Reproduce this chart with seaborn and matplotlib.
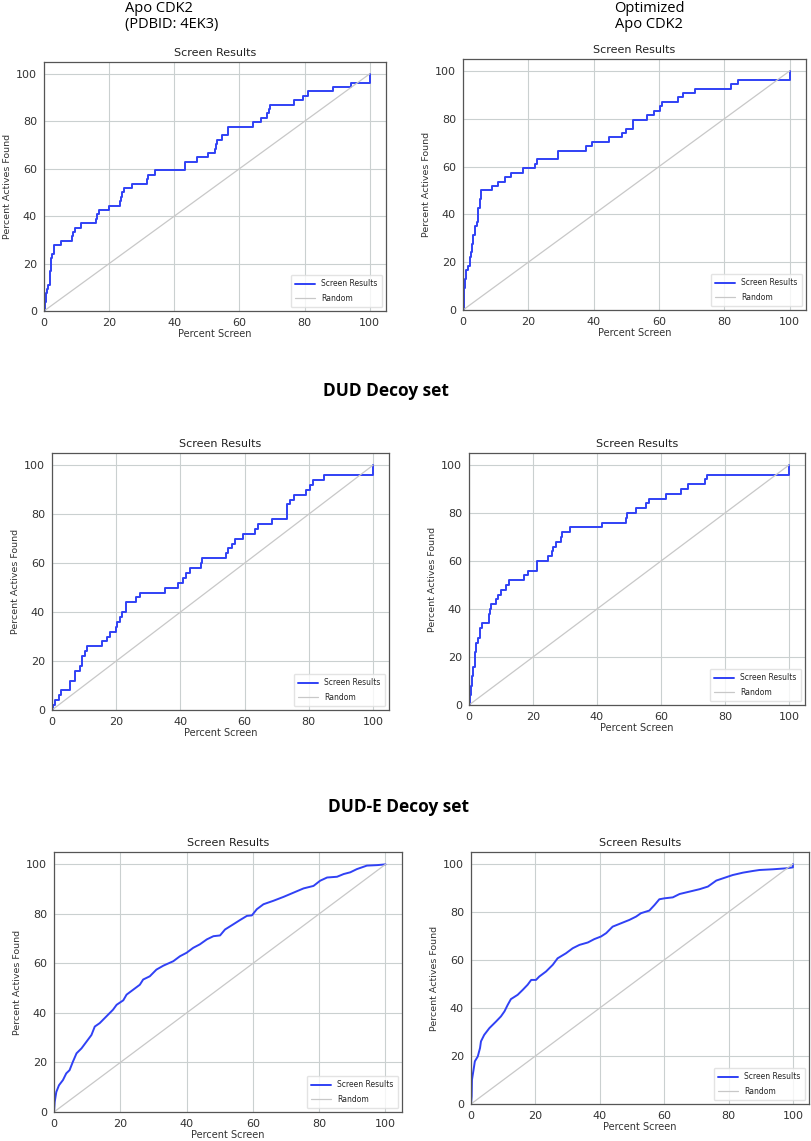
import numpy as np
import pandas as pd
import matplotlib
matplotlib.use('Agg')
import matplotlib.pyplot as plt
import seaborn as sns

# step curves: (percent screen, percent actives found)
apo_x = [0, 0.2, 0.5, 0.9, 1.3, 1.7, 2.0, 2.3, 2.6, 3.0, 5.3, 8.7, 9.0, 9.5, 11.3, 15.9, 16.3, 16.8,
         20.0, 23.3, 23.7, 24.1, 24.5, 26.9, 31.7, 32.0, 34.2, 43.4, 47.0, 50.3, 52.6, 52.8, 53.1,
         54.7, 56.6, 64.1, 66.6, 68.5, 69.0, 69.5, 76.8, 79.6, 81.0, 88.6, 94.2, 100]
apo_y = [0, 3.7, 7.4, 9.3, 11.1, 16.7, 20.4, 22.2, 24.1, 27.8, 29.6, 31.5, 33.3, 35.2, 37.0, 38.9, 40.7, 42.6,
         44.4, 46.3, 48.1, 50.0, 51.9, 53.7, 55.6, 57.4, 59.3, 63.0, 64.8, 66.7, 68.5, 70.4, 72.2,
         74.1, 77.8, 79.6, 81.5, 83.3, 85.2, 87.0, 88.9, 90.7, 92.6, 94.4, 96.3, 100]

opt_x = [0, 0.2, 0.4, 0.7, 1.0, 1.4, 2.0, 2.4, 2.8, 3.2, 3.7, 4.2, 4.6, 5.2, 5.5, 9.0, 10.7, 12.8, 14.6,
         18.4, 22.1, 22.6, 29.1, 37.8, 39.6, 44.7, 48.8, 50.0, 52.0, 56.4, 58.5, 60.2, 61.0, 65.8,
         67.3, 70.9, 82.1, 84.2, 100]
opt_y = [0, 5.6, 9.3, 13.0, 16.7, 18.5, 22.2, 24.1, 27.8, 31.5, 35.2, 37.0, 42.6, 46.3, 50.0, 51.9, 53.7, 55.6, 57.4,
         59.3, 61.1, 63.0, 66.7, 68.5, 70.4, 72.2, 74.1, 75.9, 79.6, 81.5, 83.3, 85.2, 87.0, 88.9,
         90.7, 92.6, 94.4, 96.3, 100]

dud_apo_x = [0, 0.3, 0.8, 2.2, 2.9, 5.5, 7.1, 8.6, 9.4, 10.2, 11.0, 15.7, 17.1, 18.0, 19.8, 20.4, 21.3,
             21.9, 23.2, 26.3, 27.3, 35.1, 39.3, 40.8, 41.8, 43.1, 46.3, 46.7, 54.3, 54.9, 56.1, 56.9,
             59.5, 63.4, 64.2, 68.6, 73.2, 74.0, 75.4, 79.0, 80.5, 81.3, 84.6, 100]
dud_apo_y = [0, 2, 4, 6, 8, 12, 16, 18, 22, 24, 26, 28, 30, 32, 34, 36, 38,
             40, 44, 46, 48, 50, 52, 54, 56, 58, 60, 62, 64, 66, 68, 70,
             72, 74, 76, 78, 84, 86, 88, 90, 92, 94, 96, 100]

dud_opt_x = [0, 0.2, 0.5, 1.0, 1.4, 1.9, 2.3, 2.9, 3.3, 4.2, 6.3, 6.7, 7.0, 8.3, 9.1, 9.9, 11.5, 12.5,
             17.2, 18.5, 21.1, 24.8, 25.8, 26.2, 27.1, 28.8, 29.1, 31.7, 41.5, 49.0, 49.5, 52.3, 55.4,
             56.3, 61.5, 66.1, 68.3, 73.6, 74.3, 100]
dud_opt_y = [0, 4, 8, 12, 16, 22, 26, 28, 32, 34, 38, 40, 42, 44, 46, 48, 50, 52,
             54, 56, 60, 62, 64, 66, 68, 70, 72, 74, 76, 78, 80, 82, 84,
             86, 88, 90, 92, 94, 96, 100]

dude_apo_x = [0, 0.2, 0.7, 1.5, 2.7, 3.7, 4.7, 5.7, 6.8, 8.3, 9.8, 11.3, 12.3, 13.8, 15.8, 17.8, 18.9,
              20.9, 21.9, 23.9, 25.9, 26.9, 28.9, 30.9, 33.0, 36.0, 38.0, 40.0, 42.0, 44.0, 46.1, 48.1,
              50.1, 51.6, 54.1, 56.1, 58.2, 59.7, 61.2, 63.2, 66.2, 69.3, 72.3, 75.3, 78.3, 80.3, 82.4,
              85.4, 87.4, 89.4, 91.4, 94.4, 97.5, 100]
dude_apo_y = [0, 4.0, 8.1, 10.8, 12.9, 15.6, 16.9, 20.3, 23.7, 25.7, 28.4, 31.1, 34.5, 35.9, 38.6, 41.3, 43.3,
              45.1, 47.4, 49.4, 51.4, 53.5, 54.8, 57.5, 59.1, 60.9, 62.9, 64.3, 66.3, 67.7, 69.7, 71.0,
              71.3, 73.7, 75.8, 77.5, 79.2, 79.4, 81.9, 83.9, 85.3, 86.9, 88.6, 90.3, 91.3, 93.4, 94.7,
              95.0, 96.1, 96.8, 98.1, 99.5, 99.7, 100]

dude_opt_x = [0, 0.2, 0.3, 0.8, 1.2, 2.1, 2.8, 3.1, 4.1, 5.7, 7.8, 9.3, 10.4, 11.4, 12.4, 14.5, 16.1,
              17.6, 18.7, 20.2, 21.2, 23.3, 25.4, 26.9, 29.5, 31.6, 33.7, 36.3, 38.3, 40.4, 42.0, 44.0,
              46.6, 49.2, 51.3, 52.8, 55.4, 57.0, 58.5, 60.1, 62.7, 64.8, 67.9, 71.0, 73.6, 76.2, 79.3,
              81.3, 84.5, 87.6, 89.6, 93.8, 97.9, 100, 100]
dude_opt_y = [0, 3.2, 10.1, 14.3, 17.8, 19.8, 23.3, 26.1, 28.8, 31.6, 34.4, 36.5, 38.6, 41.3, 43.7, 45.5, 47.6,
              49.7, 51.7, 51.7, 53.1, 55.2, 58.0, 60.7, 62.8, 64.9, 66.3, 67.3, 68.7, 69.8, 71.2, 73.9,
              75.3, 76.7, 78.1, 79.5, 80.6, 82.9, 85.3, 85.7, 86.1, 87.5, 88.5, 89.5, 90.6, 93.1, 94.5,
              95.4, 96.4, 97.1, 97.5, 97.8, 98.2, 98.6, 100]

random_x = [0, 100]
random_y = [0, 100]

W, H = 812, 1141
# axes boxes in pixels: left, top, right, bottom
boxes = [(44, 62, 386, 311), (463, 59, 806, 310),
         (52, 453, 389, 710), (469, 453, 805, 705),
         (54, 852, 402, 1112), (471, 852, 809, 1104)]
curves = [(apo_x, apo_y, 'steps-post'), (opt_x, opt_y, 'steps-post'),
          (dud_apo_x, dud_apo_y, 'steps-post'), (dud_opt_x, dud_opt_y, 'steps-post'),
          (dude_apo_x, dude_apo_y, 'default'), (dude_opt_x, dude_opt_y, 'default')]

sns.set_style('whitegrid', {'grid.color': '#cad0d0', 'axes.edgecolor': '#555555'})
plt.rcParams['font.family'] = ['DejaVu Sans']

fig = plt.figure(figsize=(W / 100, H / 100), dpi=100)

for (l, t, r, b), (xs, ys, ds) in zip(boxes, curves):
    ax = fig.add_axes([l / W, 1 - b / H, (r - l) / W, (b - t) / H])
    df = pd.DataFrame({'x': xs, 'y': ys})
    sns.lineplot(data=df, x='x', y='y', ax=ax, color='#3041f5', lw=1.4,
                 drawstyle=ds, label='Screen Results', sort=False, estimator=None)
    sns.lineplot(x=random_x, y=random_y, ax=ax, color='#c8c8c8', lw=0.9, label='Random')
    ax.set_xlim(0, 105)
    ax.set_ylim(0, 105)
    ax.set_xticks([0, 20, 40, 60, 80, 100])
    ax.set_yticks([0, 20, 40, 60, 80, 100])
    ax.tick_params(labelsize=8, pad=1.5, colors='#333333')
    ax.set_title('Screen Results', fontsize=8, pad=4, color='#222222')
    ax.set_xlabel('Percent Screen', fontsize=7, labelpad=1, color='#333333')
    ax.set_ylabel('Percent Actives Found', fontsize=6.8, labelpad=3, color='#333333')
    for s in ax.spines.values():
        s.set_linewidth(0.9)
    ax.legend(loc='lower right', fontsize=5.5, frameon=True, handlelength=2.6,
              borderpad=0.6, labelspacing=0.7, fancybox=True, edgecolor='#dddddd')

hdr = ['Open Sans', 'DejaVu Sans']
fig.text(125 / W, 1 - 1 / H, 'Apo CDK2\n(PDBID: 4EK3)', fontsize=10.5, family=hdr,
         ha='left', va='top', linespacing=1.05, color='black')
fig.text(649 / W, 1 - 1 / H, 'Optimized\nApo CDK2', fontsize=10.5, family=hdr,
         ha='center', va='top', linespacing=1.05, color='black')
fig.text(386 / W, 1 - 391 / H, 'DUD Decoy set', fontsize=12.5, weight='bold', family=hdr,
         ha='center', va='center', color='black')
fig.text(399 / W, 1 - 807 / H, 'DUD-E Decoy set', fontsize=12.5, weight='bold', family=hdr,
         ha='center', va='center', color='black')

fig.savefig('out.png', dpi=100)
